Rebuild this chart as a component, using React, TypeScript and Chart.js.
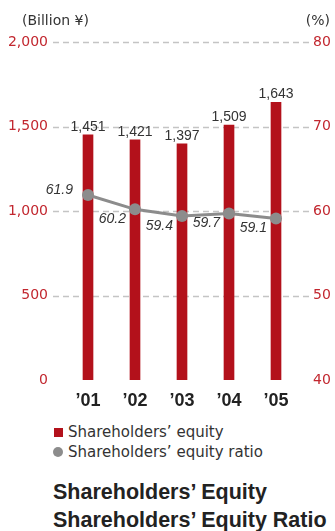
import React, { useEffect, useRef } from "react";
import { Chart, registerables } from "chart.js";

Chart.register(...registerables);

const years = ["’01", "’02", "’03", "’04", "’05"];
const equity = [1451, 1421, 1397, 1509, 1643];
const equityRatio = [61.9, 60.2, 59.4, 59.7, 59.1];
const equityRange = [0, 2000, 500];
const ratioRange = [40, 80, 10];

const RED = "#b3111b";
const TICK_RED = "#c2272f";
const GREY = "#8c8c8c";
const TEXT = "#333333";

const gridPlugin = {
  id: "dashedGrid",
  beforeDatasetsDraw(chart: any) {
    const { ctx, chartArea } = chart;
    const y = chart.scales.y;
    ctx.save();
    ctx.strokeStyle = "#c4c4c4";
    ctx.lineWidth = 1.5;
    ctx.setLineDash([6, 4]);
    y.ticks.forEach((t: any) => {
      if (t.value === equityRange[0]) return;
      const py = Math.round(y.getPixelForValue(t.value)) + 0.5;
      ctx.beginPath();
      ctx.moveTo(chartArea.left - 11.5, py);
      ctx.lineTo(chartArea.right + 10.5, py);
      ctx.stroke();
    });
    ctx.restore();
  },
};

const labelPlugin = {
  id: "valueLabels",
  afterDatasetsDraw(chart: any) {
    const ctx = chart.ctx;
    ctx.save();
    ctx.fillStyle = TEXT;
    const barMeta = chart.getDatasetMeta(1);
    ctx.font = "14px 'Liberation Sans'";
    ctx.textAlign = "center";
    ctx.textBaseline = "alphabetic";
    barMeta.data.forEach((el: any, i: number) => {
      ctx.fillText(equity[i].toLocaleString("en-US"), el.x, el.y - 4);
    });
    const lineMeta = chart.getDatasetMeta(0);
    ctx.font = "italic 14px 'Liberation Sans'";
    ctx.textAlign = "right";
    ctx.textBaseline = "middle";
    lineMeta.data.forEach((el: any, i: number) => {
      const above = i === 0;
      ctx.fillText(equityRatio[i].toFixed(1), el.x - (above ? 15 : 9), el.y + (above ? -5 : 10));
    });
    ctx.restore();
  },
};

export default function App() {
  const ref = useRef<HTMLCanvasElement>(null);
  useEffect(() => {
    if (!ref.current) return;
    const chart = new Chart(ref.current, {
      type: "bar",
      data: {
        labels: years,
        datasets: [
          {
            type: "line",
            label: "Shareholders’ equity ratio",
            data: equityRatio,
            yAxisID: "y1",
            borderColor: GREY,
            backgroundColor: GREY,
            borderWidth: 3,
            pointRadius: 6,
            pointBorderWidth: 0,
            pointBackgroundColor: GREY,
            tension: 0,
            order: 0,
          } as any,
          {
            type: "bar",
            label: "Shareholders’ equity",
            data: equity,
            yAxisID: "y",
            backgroundColor: RED,
            barThickness: 10,
            order: 1,
          },
        ],
      },
      options: {
        responsive: false,
        animation: false,
        layout: { padding: { top: 42, left: 0, right: 0, bottom: 0 } },
        plugins: { legend: { display: false }, tooltip: { enabled: false } },
        scales: {
          x: {
            grid: { display: false, drawTicks: false },
            border: { display: false },
            ticks: {
              color: "#222",
              font: { family: "'Liberation Sans'", size: 18, weight: "bold" },
              padding: 10,
            },
            afterFit: (s: any) => {
              s.height = 40;
            },
          },
          y: {
            position: "left",
            min: equityRange[0],
            max: equityRange[1],
            grid: { display: false, drawTicks: false },
            border: { display: false },
            ticks: {
              stepSize: equityRange[2],
              color: TICK_RED,
              font: { family: "'DejaVu Sans'", size: 14 },
              padding: 16.5,
            },
            afterFit: (s: any) => {
              s.width = 64.5;
            },
          },
          y1: {
            position: "right",
            min: ratioRange[0],
            max: ratioRange[1],
            grid: { display: false, drawTicks: false },
            border: { display: false },
            ticks: {
              stepSize: ratioRange[2],
              color: TICK_RED,
              font: { family: "'DejaVu Sans'", size: 14 },
              padding: 13.5,
            },
            afterFit: (s: any) => {
              s.width = 35.5;
            },
          },
        },
      },
      plugins: [gridPlugin, labelPlugin],
    });
    return () => chart.destroy();
  }, []);

  const font = "'DejaVu Sans', sans-serif";
  return (
    <div style={{ position: "absolute", left: 0, top: 0, width: 335, height: 531, overflow: "hidden", fontFamily: font, color: TEXT }}>
      <canvas ref={ref} width={335} height={420} style={{ position: "absolute", left: 0, top: 0, width: 335, height: 420 }} />
      <div style={{ position: "absolute", left: 22, top: 11, fontSize: 14, lineHeight: "18px", whiteSpace: "nowrap" }}>(Billion ¥)</div>
      <div style={{ position: "absolute", right: 5, top: 11, fontSize: 14, lineHeight: "18px", whiteSpace: "nowrap" }}>(%)</div>
      <div style={{ position: "absolute", left: 54, top: 423, display: "flex", alignItems: "center", fontSize: 15, lineHeight: "18px", whiteSpace: "nowrap" }}>
        <span style={{ display: "inline-block", width: 9, height: 9, background: RED, marginRight: 5 }} />
        Shareholders’ equity
      </div>
      <div style={{ position: "absolute", left: 53, top: 443, display: "flex", alignItems: "center", fontSize: 15, lineHeight: "18px", whiteSpace: "nowrap" }}>
        <span style={{ display: "inline-block", width: 10, height: 10, borderRadius: "50%", background: GREY, marginRight: 5 }} />
        Shareholders’ equity ratio
      </div>
      <div style={{ position: "absolute", left: 53, top: 477.5, fontFamily: "'Liberation Sans', sans-serif", fontSize: 21.5, fontWeight: "bold", lineHeight: "28px", whiteSpace: "nowrap", color: "#222" }}>
        Shareholders’ Equity
        <br />
        Shareholders’ Equity Ratio
      </div>
    </div>
  );
}
